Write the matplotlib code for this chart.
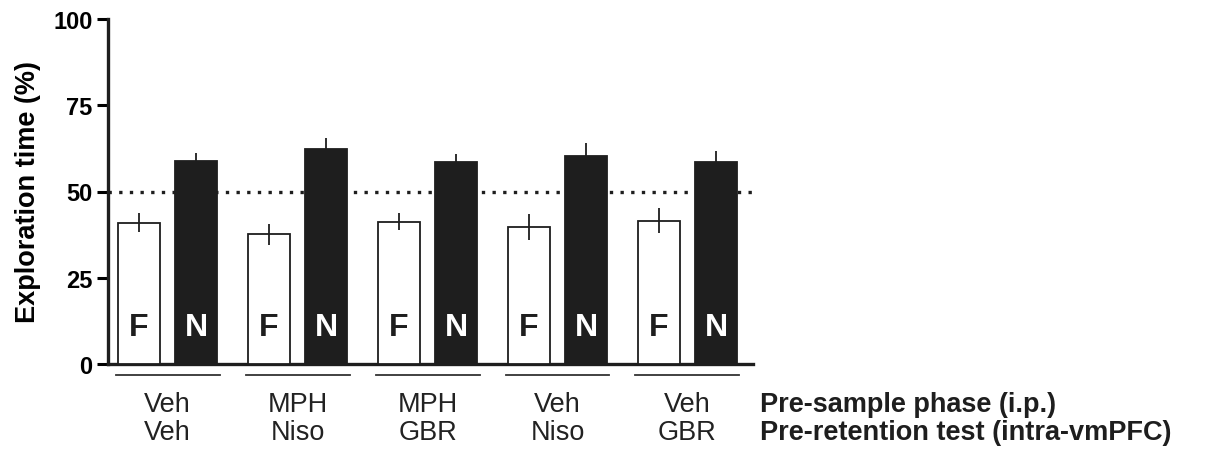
import numpy as np
import matplotlib
matplotlib.use("Agg")
import matplotlib.pyplot as plt
import matplotlib.transforms as mtransforms

plt.rcParams['font.family'] = ['Liberation Sans', 'DejaVu Sans']

# values
pre_sample = ['Veh', 'MPH', 'MPH', 'Veh', 'Veh']
pre_retention = ['Veh', 'Niso', 'GBR', 'Niso', 'GBR']
familiar = [41.0, 37.6, 41.2, 39.7, 41.5]
familiar_sem = [2.7, 3.0, 2.5, 3.8, 3.6]
novel = [58.9, 62.3, 58.6, 60.3, 58.5]
novel_sem = [2.4, 3.1, 2.3, 3.8, 3.3]
yticks = [0, 25, 50, 75, 100]

x = np.arange(len(pre_sample))
w = 0.32
off = 0.22

fig = plt.figure(figsize=(12.13, 4.52), dpi=100)
ax = fig.add_axes([108/1213, 1-365/452, 645/1213, 345/452])

ax.bar(x - off, familiar, w, color='white', edgecolor='#1e1e1e', linewidth=1.3, zorder=3)
ax.bar(x + off, novel, w, color='#1e1e1e', edgecolor='#1e1e1e', linewidth=1.3, zorder=3)
ax.errorbar(x - off, familiar, yerr=familiar_sem, fmt='none', ecolor='#1e1e1e', elinewidth=1.3, capsize=0, zorder=4)
ax.errorbar(x + off, novel, yerr=novel_sem, fmt='none', ecolor='#1e1e1e', elinewidth=1.3, capsize=0, zorder=2)

# chance level
ax.axhline(50, color='#1e1e1e', linestyle=(0, (1, 2.2)), linewidth=2.4, zorder=1)

for i in x:
    ax.text(i - off, 10.7, 'F', ha='center', va='center', fontsize=23, fontweight='bold', color='#1e1e1e', zorder=5)
    ax.text(i + off, 10.7, 'N', ha='center', va='center', fontsize=23, fontweight='bold', color='white', zorder=5)

ax.set_xlim(-0.458, 4.504)
ax.set_ylim(0, 100)
ax.set_yticks(yticks)
ax.set_yticklabels([str(t) for t in yticks], fontsize=17, fontweight='bold')
ax.set_xticks([])
ax.tick_params(axis='y', direction='out', length=8, width=2.2, pad=3)
ax.set_ylabel('Exploration time (%)', fontsize=19.5, fontweight='bold')
ax.yaxis.set_label_coords(-0.104, 0.5)

for s in ['top', 'right']:
    ax.spines[s].set_visible(False)
for s in ['left', 'bottom']:
    ax.spines[s].set_linewidth(2.4)
    ax.spines[s].set_color('#1e1e1e')

# group labels under the axis
trans = mtransforms.blended_transform_factory(ax.transData, ax.transAxes)
for i in x:
    ax.plot([i - 0.4, i + 0.4], [-0.031, -0.031], transform=trans, color='#333333',
            linewidth=1.3, clip_on=False)
    ax.text(i, -0.136, pre_sample[i], transform=trans, ha='center', va='baseline', fontsize=19.5, color='#222222')
    ax.text(i, -0.217, pre_retention[i], transform=trans, ha='center', va='baseline', fontsize=19.5, color='#222222')

ax.text(1.011, -0.136, 'Pre-sample phase (i.p.)', transform=ax.transAxes, ha='left', va='baseline',
        fontsize=19.5, fontweight='bold', color='#1e1e1e')
ax.text(1.011, -0.217, 'Pre-retention test (intra-vmPFC)', transform=ax.transAxes, ha='left', va='baseline',
        fontsize=19.5, fontweight='bold', color='#1e1e1e')

fig.savefig('out.png', dpi=100)
